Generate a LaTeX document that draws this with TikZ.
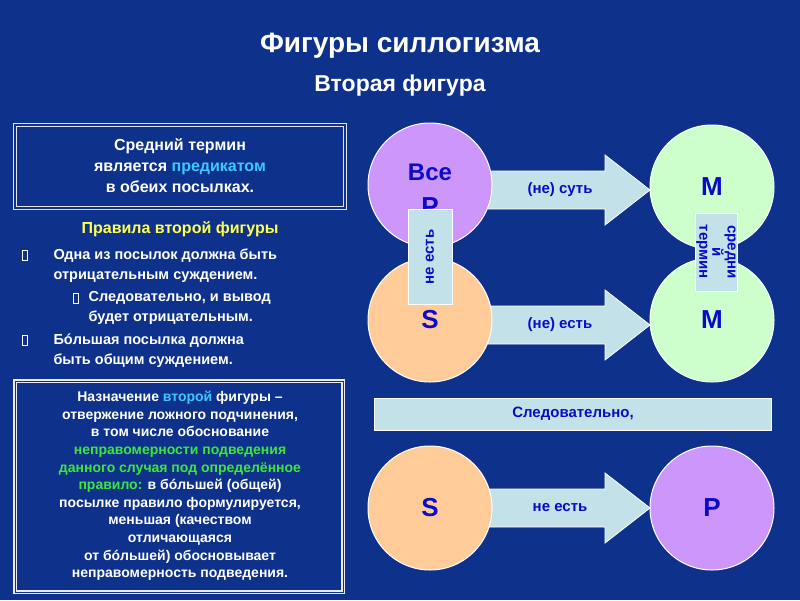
\documentclass[tikz,border=0pt]{standalone}
\usepackage{fontspec}
\setmainfont{Liberation Sans}
\definecolor{bg}{RGB}{14,50,140}
\definecolor{txt}{RGB}{10,10,200}
\definecolor{pur}{RGB}{204,150,250}
\definecolor{ora}{RGB}{255,204,153}
\definecolor{grn}{RGB}{204,255,204}
\definecolor{arw}{RGB}{195,225,232}
\definecolor{cy}{RGB}{60,200,255}
\definecolor{yel}{RGB}{255,255,80}
\definecolor{grnt}{RGB}{60,230,60}
\newcommand{\bigarrow}[3]{% name, y, text
 \fill[arw,draw=white,line width=0.8pt] (480,#2-19) -- (605,#2-19) -- (605,#2-35) -- (650,#2) -- (605,#2+35) -- (605,#2+19) -- (480,#2+19) -- cycle;
 \node[lbl] (#1) at (560,#2) {#3};}
\begin{document}
\begin{tikzpicture}[x=1pt,y=-1pt,
 circ/.style={circle,draw=white,line width=1pt,minimum size=124pt,inner sep=0pt,font=\bfseries\fontsize{26}{26}\selectfont,text=txt},
 lbl/.style={font=\bfseries\fontsize{15}{15}\selectfont,text=txt},
 wt/.style={text=white,font=\bfseries\fontsize{16}{21}\selectfont,align=center},
 bul/.style={draw=white,line width=0.6pt,minimum width=5pt,minimum height=10pt,inner sep=0pt},
 btxt/.style={text=white,font=\bfseries\fontsize{14.5}{20}\selectfont,align=left,anchor=north west},
 vbox/.style={fill=arw,draw=white,line width=0.5pt,font=\bfseries\fontsize{15}{13}\selectfont,text=txt,align=center,inner sep=2pt}]
\fill[bg] (0,0) rectangle (800,600);
\useasboundingbox (0,0) rectangle (800,600);
\node[text=white,font=\bfseries\fontsize{28}{28}\selectfont] (t1) at (400,46) {Фигуры силлогизма};
\node[text=white,font=\bfseries\fontsize{23}{23}\selectfont] (t2) at (400,86) {Вторая фигура};
% box 1
\draw[white!80!gray,line width=1.2pt,double=bg,double distance=1.2pt] (15,125) rectangle (345,208);
\node[wt] (b1) at (180,166) {Средний термин\\является \textcolor{cy}{предикатом}\\в обеих посылках.};
\node[text=yel,font=\bfseries\fontsize{16}{16}\selectfont] (rh) at (180,229) {Правила второй фигуры};
\node[bul] (u1) at (25,255) {};
\node[btxt] (r1) at (50,245) {Одна из посылок должна быть\\отрицательным суждением.};
\node[bul] (u2) at (76,298) {};
\node[btxt] (r2) at (85,288) {Следовательно, и вывод\\будет отрицательным.};
\node[bul] (u3) at (25,340) {};
\node[btxt] (r3) at (50,330) {Бóльшая посылка должна\\быть общим суждением.};
% box 2
\draw[white!85!gray,line width=1.2pt,double=bg,double distance=1pt] (15,381) rectangle (343,592);
\node[text=white,font=\bfseries\fontsize{14}{17.6}\selectfont,align=center] (b2) at (180,486) {Назначение \textcolor{cy}{второй} фигуры –\\отвержение ложного подчинения,\\в том числе обоснование\\\textcolor{grnt}{неправомерности подведения}\\\textcolor{grnt}{данного случая под определённое}\\\textcolor{grnt}{правило:} в бóльшей (общей)\\посылке правило формулируется,\\меньшая (качеством\\отличающаяся\\от бóльшей) обосновывает\\неправомерность подведения.};
% arrows
\bigarrow{a1}{190}{(не) суть}
\bigarrow{a2}{325}{(не) есть}
\bigarrow{a3}{508}{не есть}
% circles
\node[circ,fill=ora] (S) at (430,320) {S};
\node[circ,fill=pur] (P) at (430,185) {};
\node[font=\bfseries\fontsize{24}{24}\selectfont,text=txt] (Pv) at (430,172) {Все};
\node[font=\bfseries\fontsize{26}{26}\selectfont,text=txt] (Pp) at (430,207) {P};
\node[circ,fill=grn] (M2) at (712,320) {M};
\node[circ,fill=grn] (M1) at (712,187) {M};
\node[circ,fill=ora] (S2) at (430,508) {S};
\node[circ,fill=pur] (P2) at (712,508) {P};
\node[vbox,rotate=90,minimum width=95pt,minimum height=44pt] (ne) at (430,257) {не есть};
\node[vbox,rotate=-90,minimum width=78pt,minimum height=42pt,inner sep=0pt] (st) at (716,252) {средни\\й\\термин};
% bar
\node[fill=arw,draw=white,line width=1pt,minimum width=397pt,minimum height=32pt,lbl] (sl) at (573,414) {Следовательно,};
\end{tikzpicture}
\end{document}
